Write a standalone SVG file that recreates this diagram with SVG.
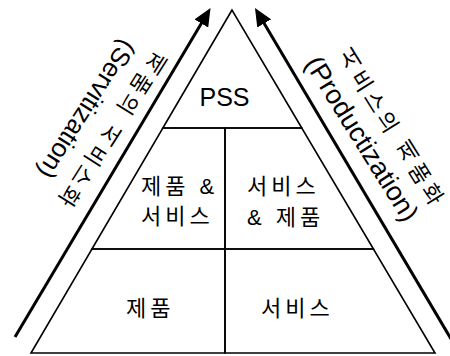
<svg xmlns="http://www.w3.org/2000/svg" width="450" height="356" viewBox="0 0 450 356">
  <style>
    .cell { fill: none; stroke: #000; stroke-width: 1.6; stroke-linejoin: miter; }
    .t { font-family: "Liberation Sans", "Noto Sans CJK KR", sans-serif; font-size: 22px; letter-spacing: 4px; fill: #000; }
    .pss { font-family: "Liberation Sans", "Noto Sans CJK KR", sans-serif; font-size: 25px; fill: #000; }
    .arrow { fill: none; stroke: #000; stroke-width: 3; }
    .vk { font-family: "Liberation Sans", "Noto Sans CJK KR", sans-serif; font-size: 22px; letter-spacing: 4px; fill: #000; writing-mode: vertical-rl; text-orientation: mixed; }
    .vl { font-family: "Liberation Sans", "Noto Sans CJK KR", sans-serif; font-size: 26px; fill: #000; writing-mode: vertical-rl; text-orientation: mixed; }
    .sw { text-orientation: sideways; }
  </style>
  <defs>
    <marker id="ah" markerUnits="userSpaceOnUse" viewBox="0 0 18 16" markerWidth="18" markerHeight="16" refX="6" refY="8" orient="auto">
      <path d="M0,0 L18,8 L0,16 z" fill="#000"/>
    </marker>
  </defs>

  <g id="cell-pss">
    <polygon class="cell" points="232,10 162.85,128 301.8,128"/>
    <text class="pss" x="224.5" y="106" text-anchor="middle">PSS</text>
  </g>
  <g id="cell-product-service">
    <polygon class="cell" points="162.85,128 225,128 225,249 91.94,249"/>
    <text class="t" x="141" y="194">제품 &amp;</text>
    <text class="t" x="141" y="224">서비스</text>
  </g>
  <g id="cell-service-product">
    <polygon class="cell" points="225,128 301.8,128 373.45,249 225,249"/>
    <text class="t" x="247" y="194">서비스</text>
    <text class="t" x="247" y="225">&amp; 제품</text>
  </g>
  <g id="cell-product">
    <polygon class="cell" points="91.94,249 225,249 225,353 31,353"/>
    <text class="t" x="126" y="315.5">제품</text>
  </g>
  <g id="cell-service">
    <polygon class="cell" points="225,249 373.45,249 435,353 225,353"/>
    <text class="t" x="261" y="315.5">서비스</text>
  </g>

  <g id="connectors">
    <path class="arrow" d="M15,337 L204.4,18.3" marker-end="url(#ah)"/>
    <path class="arrow" d="M451,339 L261.1,18.3" marker-end="url(#ah)"/>
  </g>

  <g id="label-servitization" transform="translate(210.5,8) rotate(32.5)">
    <text class="vk" x="-18.5" y="65">제<tspan class="sw">품의</tspan> 서<tspan class="sw">비스화</tspan></text>
    <text class="vl" x="-49.5" y="72.5">(Servitization)</text>
  </g>
  <g id="label-productization" transform="translate(255,8) rotate(-32)">
    <text class="vk" x="51.5" y="82.5">서<tspan class="sw">비스의</tspan> 제<tspan class="sw">품화</tspan></text>
    <text class="vl" x="21.3" y="73" style="font-size:27px">(Productization)</text>
  </g>
</svg>
